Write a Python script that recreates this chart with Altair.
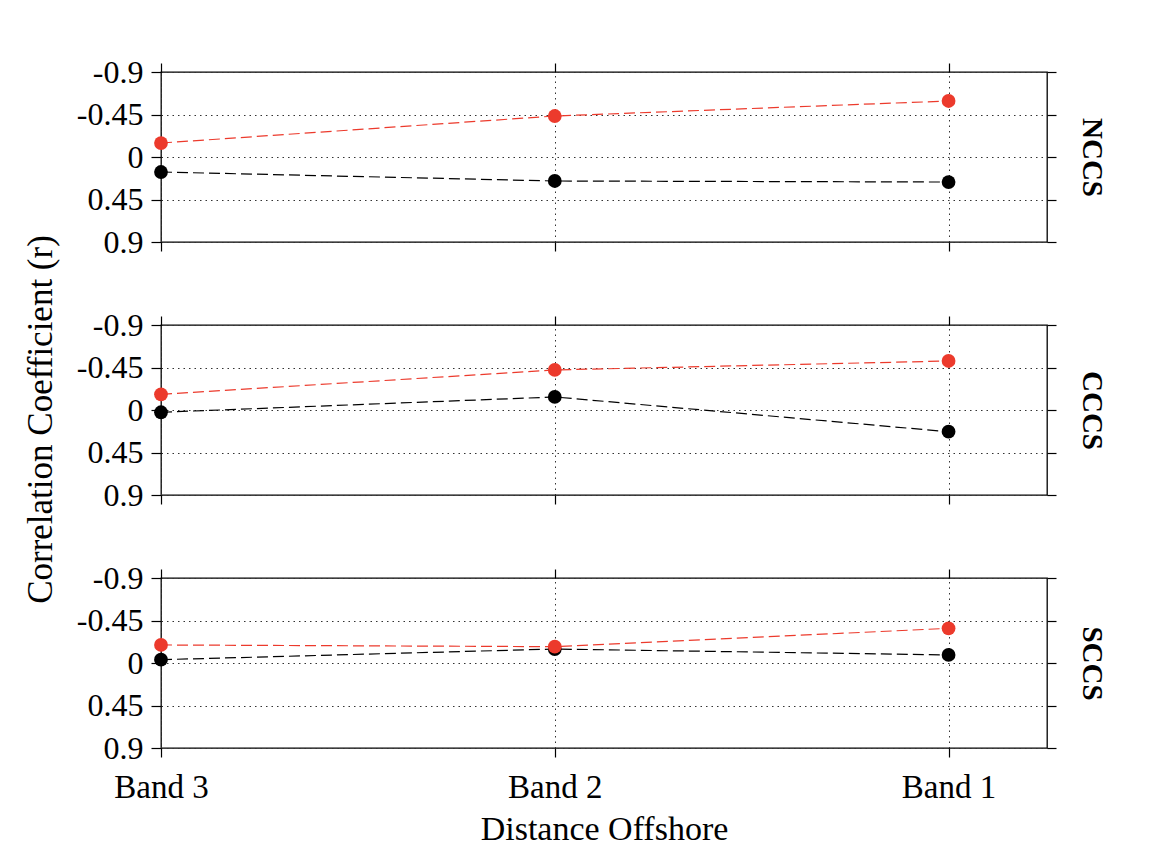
import altair as alt
import pandas as pd

bands = ["Band 3", "Band 2", "Band 1"]
band_pos = [0, 1, 2]
regions = ["NCCS", "CCCS", "SCCS"]
red_vals = {
    "NCCS": [-0.148, -0.434, -0.593],
    "CCCS": [-0.166, -0.424, -0.519],
    "SCCS": [-0.191, -0.173, -0.367],
}
black_vals = {
    "NCCS": [0.159, 0.254, 0.265],
    "CCCS": [0.024, -0.138, 0.230],
    "SCCS": [-0.035, -0.148, -0.085],
}
y_ticks = [-0.9, -0.45, 0, 0.45, 0.9]

FONT = "Liberation Serif"
RED = "#ec3a2c"
GRID_DASH = [1.5, 4]

band_expr = "[" + ",".join("'%s'" % b for b in bands) + "][datum.value]"


def panel(region, last, middle):
    rows = []
    for name, vals in (("black", black_vals[region]), ("red", red_vals[region])):
        for p, b, v in zip(band_pos, bands, vals):
            rows.append({"pos": p, "band": b, "series": name, "r": v})
    df = pd.DataFrame(rows)

    xscale = alt.Scale(domain=[0, 2.25], nice=False, zero=False)
    yscale = alt.Scale(domain=[-0.9, 0.9], reverse=True, nice=False, zero=False)
    color = alt.Color("series:N", scale=alt.Scale(domain=["red", "black"], range=[RED, "#000000"]), legend=None)

    xkw = dict(values=band_pos, labelExpr=band_expr, grid=True, gridDash=GRID_DASH,
               gridColor="#333333", gridWidth=1, tickSize=9, domain=False,
               labelPadding=14, labelFontSize=33, labelFlush=False)
    if last:
        xkw.update(title="Distance Offshore", titleFontSize=34, titlePadding=8)
    else:
        xkw.update(labels=False, title=None)
    ykw = dict(values=y_ticks, labelExpr="toString(datum.value)", grid=True,
               gridDash=GRID_DASH, gridColor="#333333", gridWidth=1, tickSize=10,
               domain=False, labelPadding=8, labelFontSize=32, labelFlush=False)
    if middle:
        ykw.update(title="Correlation Coefficient (r)", titleFontSize=35, titlePadding=18, titleY=94)
    else:
        ykw.update(title=None)

    base = alt.Chart(df)
    lines = base.mark_line(strokeDash=[11, 5], strokeWidth=1.2).encode(
        x=alt.X("pos:Q", scale=xscale, axis=alt.Axis(**xkw)),
        y=alt.Y("r:Q", scale=yscale, axis=alt.Axis(**ykw)),
        color=color, detail="series:N")
    pts = base.mark_circle(size=190, opacity=1).encode(
        x=alt.X("pos:Q", scale=xscale, axis=None),
        y=alt.Y("r:Q", scale=yscale, axis=None),
        color=color)

    x2 = alt.X("pos:Q", scale=xscale, axis=alt.Axis(orient="top", values=band_pos, labels=False,
                                                   grid=False, domain=False, tickSize=9, title=None))
    y2 = alt.Y("r:Q", scale=yscale, axis=alt.Axis(orient="right", values=y_ticks, labels=False,
                                                 grid=False, domain=False, tickSize=9, title=region,
                                                 titleAngle=90, titleFontSize=29, titleFontWeight="bold",
                                                 titlePadding=20))
    ghost = base.mark_point(opacity=0).encode(x=x2, y=y2)

    return alt.layer(lines, pts, ghost).resolve_axis(x="independent", y="independent").properties(
        width=886, height=170)


chart = alt.vconcat(
    panel("NCCS", False, False),
    panel("CCCS", False, True),
    panel("SCCS", True, False),
    spacing=83,
    bounds="flush",
).properties(
    padding={"left": 22, "top": 55, "right": 10, "bottom": 5},
    background="white",
).configure(
    font=FONT,
).configure_axis(
    labelFont=FONT, titleFont=FONT, labelColor="#000000", titleColor="#000000",
    tickColor="#000000", tickWidth=1.2, titleFontWeight="normal",
).configure_view(
    stroke="#000000", strokeWidth=1.3,
)

chart.save("out.html", embed_options={"renderer": "svg", "actions": False})
